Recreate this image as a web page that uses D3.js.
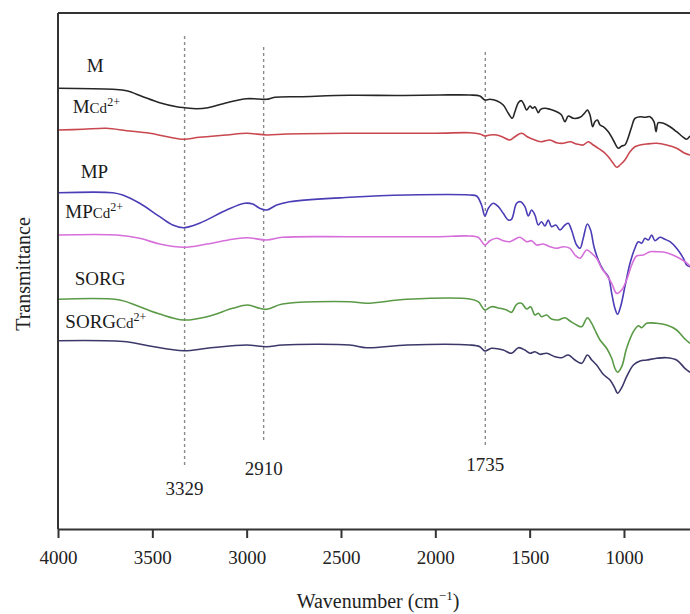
<!DOCTYPE html>
<html>
<head>
<meta charset="utf-8">
<script src="https://cdn.jsdelivr.net/npm/d3@7"></script>
<style>
  body { margin: 0; background: #fff; }
  svg { display: block; font-family: "Liberation Serif", "DejaVu Serif", serif; }
</style>
</head>
<body>
<svg id="chart" width="690" height="614"></svg>
<script>
// FTIR spectra, [wavenumber, transmittance (a.u., offset)]
const seriesM = [[4000,440.7],[3710,439.7],[3636,438.3],[3550,432.3],[3461,426.3],[3371,422.3],[3329,421.3],[3266,420.3],[3205,421.3],[3106,426.3],[3000,430.3],[2940,430],[2894,429.7],[2851,431.7],[2719,432.3],[2454,433.7],[2200,433.5],[1976,434],[1817,434],[1764,433],[1737,429],[1711,429.7],[1675,428.3],[1640,424],[1613,415.7],[1592,410.7],[1578,417.3],[1560,426.3],[1543,428.3],[1529,424],[1516,419],[1498,423],[1484,420.7],[1472,422.3],[1454,416.3],[1442,419.7],[1419,420.7],[1392,419.7],[1357,417.3],[1331,414],[1313,407.3],[1295,413],[1269,410.7],[1233,411.7],[1207,416.3],[1194,419],[1180,414],[1166,402.3],[1154,407.3],[1141,409],[1127,404],[1110,402.3],[1083,397.3],[1057,389],[1030,380.7],[1012,383],[995,384],[982,389],[959,402.3],[942,410.7],[915,412.3],[889,411.7],[862,412.3],[841,407.3],[830,397.3],[818,406.3],[791,405.7],[756,402.3],[721,397.3],[685,391.7],[668,389.7],[650,393]];

const seriesMCd = [[4000,399],[3867,399.7],[3743,400.7],[3636,398.3],[3514,395.7],[3408,391.7],[3333,389.7],[3250,391.7],[3106,394],[3000,395.7],[2894,394],[2788,395],[2454,395.7],[2000,395.7],[1817,396.3],[1764,395],[1737,393],[1711,394],[1675,394],[1640,391.7],[1605,389],[1578,392.3],[1543,395.7],[1507,391.7],[1472,389],[1437,387.3],[1392,389],[1357,386.3],[1322,385.7],[1286,387.3],[1251,385],[1216,384],[1189,387.3],[1163,384],[1136,380.7],[1110,377.3],[1083,372.3],[1057,365.7],[1039,361.7],[1021,364],[995,369],[968,377.3],[942,382.3],[915,384],[880,385],[827,385.7],[774,384],[721,380.7],[677,375.7],[650,374]];

const seriesMP = [[4000,336.3],[3710,336.3],[3657,334],[3567,325.7],[3461,312.3],[3392,304],[3333,301.3],[3250,305.7],[3106,319],[3010,325.7],[2968,325],[2931,320.7],[2894,319],[2841,324],[2772,327.3],[2454,331.7],[2150,334],[1817,334],[1781,333],[1755,324],[1737,313],[1719,320.7],[1693,325.7],[1666,322.3],[1640,315.7],[1613,309],[1596,309.7],[1569,325.7],[1548,327.3],[1525,322.3],[1507,313],[1490,319],[1472,314],[1454,304],[1437,307.3],[1419,303],[1401,309],[1384,302.3],[1361,304],[1339,299],[1313,304],[1295,305.7],[1278,299],[1251,284],[1233,280.7],[1216,290.7],[1194,305],[1177,299],[1159,282.3],[1136,269],[1110,259],[1083,252.3],[1065,235.7],[1048,220.7],[1034,214.7],[1018,222.3],[995,242.3],[968,265.7],[942,280.7],[924,287.3],[906,285.7],[889,290.7],[871,289],[853,294],[836,288.3],[809,291.7],[783,289.7],[756,287.3],[721,280.7],[685,270.7],[668,264],[650,262.3]];

const seriesMPCd = [[4000,294],[3688,294],[3567,290.7],[3461,285],[3333,281.7],[3210,285],[3074,289.7],[2995,291.3],[2894,289],[2810,291.7],[2454,292.3],[2000,292.3],[1817,293],[1773,291.7],[1737,284],[1711,288.3],[1675,290.7],[1640,288.3],[1605,287.3],[1552,291.7],[1516,287.3],[1490,288.3],[1463,284],[1428,285],[1392,282.3],[1357,280.7],[1322,282.3],[1286,280.7],[1260,274],[1233,270.7],[1198,279],[1171,275.7],[1145,270.7],[1118,260.7],[1092,254],[1065,245.7],[1039,235.7],[1012,239],[986,249],[959,264],[933,273],[897,274],[862,277.3],[827,277.3],[774,276.3],[721,272.3],[677,267.3],[650,263]];

const seriesSORG = [[4000,229.7],[3673,229],[3567,222.3],[3461,215],[3333,209],[3210,212.3],[3074,220.7],[2995,224],[2931,220.7],[2894,219.7],[2810,225],[2454,227.3],[2364,225.7],[2150,229.7],[1817,230],[1773,227.3],[1737,219],[1702,222.3],[1658,220.7],[1622,219],[1596,216.7],[1569,224.7],[1543,225.7],[1516,220],[1495,222.3],[1472,214],[1454,215.7],[1437,212.3],[1410,214],[1384,210],[1348,209],[1313,211.3],[1286,208],[1251,204],[1224,202.3],[1194,211.3],[1171,205.7],[1154,199],[1127,189],[1092,180.7],[1065,170.7],[1048,160.7],[1034,156.7],[1012,162.3],[986,180.7],[950,197.3],[924,203.3],[906,201.3],[880,205.7],[827,205.7],[774,204],[721,199],[677,190],[650,185.7]];

const seriesSORGCd = [[4000,188.3],[3636,187.3],[3514,183],[3333,178.3],[3210,180.7],[3000,184],[2894,182.3],[2810,184],[2454,184],[2364,181.3],[2150,184],[1817,184],[1764,182.3],[1737,178],[1702,180.7],[1640,179],[1596,175.7],[1560,181.3],[1525,179],[1498,175.7],[1472,177.3],[1446,174.7],[1410,175.7],[1366,172.3],[1331,171.3],[1295,174],[1260,169],[1224,165.7],[1194,174],[1171,169],[1145,164],[1110,154.7],[1074,149],[1048,140.7],[1034,135.7],[1012,141.3],[986,152.3],[950,164],[915,168],[880,169],[827,170.7],[774,171.3],[721,169],[677,160.7],[650,156.7]];

const seriesNames = ["M", "MCd", "MP", "MPCd", "SORG", "SORGCd"];
const seriesColors = ["#262626", "#c9474f", "#4a3db5", "#d66fda", "#5a9a46", "#3c3869"];
const allSeries = [seriesM, seriesMCd, seriesMP, seriesMPCd, seriesSORG, seriesSORGCd];

// curve labels: base text, whether it carries the Cd2+ suffix, anchor [wavenumber, value]
const labelBase = ["M", "M", "MP", "MP", "SORG", "SORG"];
const labelCd = [false, true, false, true, false, true];
const labelAnchor = [[3848,457],[3922,416],[3880,351],[3961,311],[3911,244],[3961,201]];

// marked bands: wavenumber, dashed line top/bottom, label baseline
const bandWn = [3329, 2910, 1735];
const bandTop = [493, 482, 477];
const bandBottom = [64, 88, 82];
const bandLabelY = [34, 54, 58];

const xTicks = [4000, 3500, 3000, 2500, 2000, 1500, 1000];

const svg = d3.select("#chart");
const margin = {top: 13, right: 0, bottom: 85, left: 58};
const width = +svg.attr("width");
const height = +svg.attr("height");

const x = d3.scaleLinear()
    .domain([4000, 650])
    .range([margin.left, width - margin.right]);

const y = d3.scaleLinear()
    .domain([0, 516])
    .range([height - margin.bottom, margin.top]);

svg.append("defs").append("clipPath").attr("id", "clip")
  .append("rect")
    .attr("x", margin.left).attr("y", margin.top)
    .attr("width", width - margin.left - margin.right)
    .attr("height", height - margin.top - margin.bottom);

// dashed band markers
svg.append("g")
  .selectAll("line")
  .data(bandWn)
  .join("line")
    .attr("x1", d => x(d)).attr("x2", d => x(d))
    .attr("y1", (d, i) => y(bandTop[i]))
    .attr("y2", (d, i) => y(bandBottom[i]))
    .attr("stroke", "#8a8a8a")
    .attr("stroke-width", 1.4)
    .attr("stroke-dasharray", "3,3");

svg.append("g")
  .selectAll("text")
  .data(bandWn)
  .join("text")
    .attr("x", d => x(d))
    .attr("y", (d, i) => y(bandLabelY[i]))
    .attr("text-anchor", "middle")
    .attr("font-size", 19)
    .attr("fill", "#222")
    .text(d => d);

// spectra
const line = d3.line()
    .x(d => x(d[0]))
    .y(d => y(d[1]))
    .curve(d3.curveCatmullRom.alpha(0.5));

svg.append("g")
    .attr("clip-path", "url(#clip)")
  .selectAll("path")
  .data(allSeries)
  .join("path")
    .attr("fill", "none")
    .attr("stroke", (d, i) => seriesColors[i])
    .attr("stroke-width", 1.6)
    .attr("stroke-linejoin", "round")
    .attr("d", line);

// curve labels
const labels = svg.append("g")
    .attr("font-size", 19)
    .attr("fill", "#1a1a1a")
  .selectAll("text")
  .data(seriesNames)
  .join("text")
    .attr("x", (d, i) => x(labelAnchor[i][0]))
    .attr("y", (d, i) => y(labelAnchor[i][1]));

labels.append("tspan").text((d, i) => labelBase[i]);
labels.filter((d, i) => labelCd[i]).append("tspan")
    .attr("font-size", 15)
    .text("Cd");
labels.filter((d, i) => labelCd[i]).append("tspan")
    .attr("font-size", 12)
    .attr("dy", -7)
    .text("2+");

// frame: top border and left axis
svg.append("line")
    .attr("x1", margin.left).attr("x2", width)
    .attr("y1", margin.top).attr("y2", margin.top)
    .attr("stroke", "#333").attr("stroke-width", 2);

svg.append("line")
    .attr("x1", margin.left).attr("x2", margin.left)
    .attr("y1", margin.top).attr("y2", height - margin.bottom)
    .attr("stroke", "#333").attr("stroke-width", 2);

// bottom axis
const xAxis = svg.append("g")
    .attr("transform", `translate(0,${height - margin.bottom})`)
    .call(d3.axisBottom(x).tickValues(xTicks).tickFormat(d3.format("d"))
        .tickSize(9).tickPadding(13).tickSizeOuter(0));

xAxis.attr("font-family", null);
xAxis.select(".domain").attr("stroke", "#333").attr("stroke-width", 2);
xAxis.selectAll(".tick line").attr("stroke", "#333").attr("stroke-width", 2);
xAxis.selectAll(".tick text")
    .attr("font-size", 19)
    .attr("fill", "#222");

// axis titles
const xTitle = svg.append("text")
    .attr("x", 378)
    .attr("y", height - 6)
    .attr("text-anchor", "middle")
    .attr("font-size", 20)
    .attr("fill", "#222");
xTitle.append("tspan").text("Wavenumber (cm");
xTitle.append("tspan").attr("font-size", 13).attr("dy", -8).text("\u22121");
xTitle.append("tspan").attr("dy", 8).text(")");

svg.append("text")
    .attr("transform", `translate(30,${(margin.top + height - margin.bottom) / 2 + 3}) rotate(-90)`)
    .attr("text-anchor", "middle")
    .attr("font-size", 20)
    .attr("fill", "#222")
    .text("Transmittance");
</script>
</body>
</html>
